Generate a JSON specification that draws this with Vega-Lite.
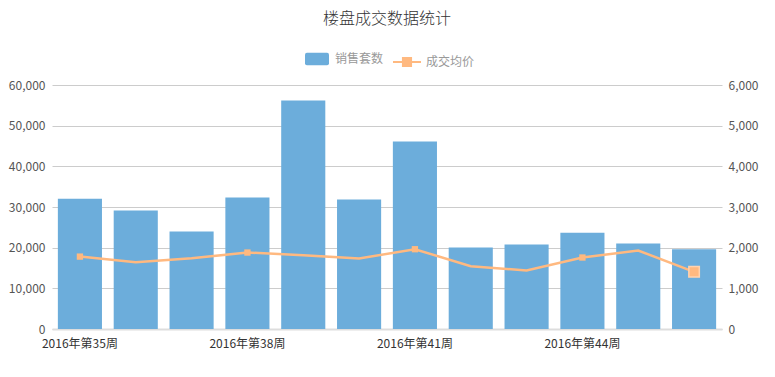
{
  "$schema": "https://vega.github.io/schema/vega-lite/v6.json",
  "width": 670,
  "height": 244,
  "autosize": "none",
  "padding": {"left": 52, "top": 85, "right": 53, "bottom": 48},
  "background": "white",
  "title": {
    "text": "楼盘成交数据统计",
    "fontSize": 16,
    "fontWeight": 300,
    "color": "#333333",
    "font": "Noto Sans CJK SC",
    "anchor": "middle",
    "frame": "group",
    "offset": 20
  },
  "data": {
    "values": [
      {"week": "2016年第35周", "count": 3202, "price": 17800},
      {"week": "2016年第36周", "count": 2914, "price": 16430},
      {"week": "2016年第37周", "count": 2398, "price": 17400},
      {"week": "2016年第38周", "count": 3234, "price": 18800},
      {"week": "2016年第39周", "count": 5619, "price": 18150},
      {"week": "2016年第40周", "count": 3184, "price": 17340},
      {"week": "2016年第41周", "count": 4611, "price": 19620},
      {"week": "2016年第42周", "count": 2004, "price": 15450},
      {"week": "2016年第43周", "count": 2078, "price": 14390},
      {"week": "2016年第44周", "count": 2366, "price": 17580},
      {"week": "2016年第45周", "count": 2102, "price": 19300},
      {"week": "2016年第46周", "count": 1962, "price": 14052}
    ]
  },
  "encoding": {
    "x": {
      "field": "week",
      "type": "ordinal",
      "sort": null,
      "scale": {"paddingInner": 0.21, "paddingOuter": 0.105},
      "axis": {
        "title": null,
        "labelAngle": 0,
        "values": ["2016年第35周", "2016年第38周", "2016年第41周", "2016年第44周"],
        "ticks": false,
        "domainColor": "#dddddd",
        "domainWidth": 2,
        "labelColor": "#333333",
        "labelFontSize": 12,
        "labelFont": "Noto Sans CJK SC",
        "labelPadding": 9
      }
    }
  },
  "layer": [
    {
      "mark": {"type": "bar", "color": "#6caddb"},
      "encoding": {
        "y": {
          "field": "count",
          "type": "quantitative",
          "scale": {"domain": [0, 6000], "nice": false},
          "axis": {
            "orient": "right",
            "title": null,
            "grid": false,
            "domain": false,
            "ticks": false,
            "values": [0, 1000, 2000, 3000, 4000, 5000, 6000],
            "format": ",d",
            "labelColor": "#555555",
            "labelFontSize": 12,
            "labelFont": "Noto Sans CJK SC",
            "labelPadding": 6
          }
        },
        "fill": {
          "datum": "销售套数",
          "scale": {"domain": ["销售套数"], "range": ["#6caddb"]},
          "legend": {
            "orient": "none",
            "legendX": 253,
            "legendY": -38,
            "title": null,
            "padding": 0,
            "symbolType": "M-0.84,-0.52 H0.84 Q1,-0.52 1,-0.36 V0.36 Q1,0.52 0.84,0.52 H-0.84 Q-1,0.52 -1,0.36 V-0.36 Q-1,-0.52 -0.84,-0.52 Z",
            "symbolSize": 576,
            "symbolStrokeWidth": 0,
            "symbolOpacity": 1,
            "labelColor": "#999999",
            "labelFontSize": 12,
            "labelFont": "Noto Sans CJK SC",
            "labelOffset": 6
          }
        }
      }
    },
    {
      "mark": {"type": "line", "strokeWidth": 2.5, "color": "#ffb980"},
      "encoding": {
        "y": {
          "field": "price",
          "type": "quantitative",
          "scale": {"domain": [0, 60000], "nice": false},
          "axis": {
            "orient": "left",
            "title": null,
            "grid": true,
            "gridColor": "#cccccc",
            "domain": false,
            "ticks": false,
            "values": [0, 10000, 20000, 30000, 40000, 50000, 60000],
            "format": ",d",
            "labelColor": "#555555",
            "labelFontSize": 12,
            "labelFont": "Noto Sans CJK SC",
            "labelPadding": 7
          }
        },
        "stroke": {
          "datum": "成交均价",
          "scale": {"domain": ["成交均价"], "range": ["#ffb980"]},
          "legend": {
            "orient": "none",
            "legendX": 340,
            "legendY": -38,
            "title": null,
            "padding": 0,
            "symbolType": "M-1,0 H-0.29 M0.29,0 H1 M-0.29,-0.29 H0.29 V0.29 H-0.29 Z",
            "symbolSize": 784,
            "symbolStrokeWidth": 2,
            "symbolFillColor": "#ffb980",
            "symbolStrokeColor": "#ffcca3",
            "symbolOpacity": 1,
            "labelColor": "#999999",
            "labelFontSize": 12,
            "labelFont": "Noto Sans CJK SC",
            "labelOffset": 4
          }
        }
      }
    },
    {
      "transform": [
        {"filter": {"field": "week", "oneOf": ["2016年第35周", "2016年第38周", "2016年第41周", "2016年第44周"]}}
      ],
      "mark": {"type": "point", "shape": "square", "filled": true, "size": 40, "color": "#ffb980", "opacity": 1},
      "encoding": {
        "y": {"field": "price", "type": "quantitative", "scale": {"domain": [0, 60000], "nice": false}, "axis": null}
      }
    },
    {
      "transform": [
        {"filter": {"field": "week", "equal": "2016年第46周"}}
      ],
      "mark": {"type": "point", "shape": "square", "filled": true, "size": 110, "color": "#ffb980", "stroke": "#ffd3b0", "strokeWidth": 1.5, "opacity": 1},
      "encoding": {
        "y": {"field": "price", "type": "quantitative", "scale": {"domain": [0, 60000], "nice": false}, "axis": null}
      }
    }
  ],
  "resolve": {"scale": {"y": "independent"}},
  "config": {
    "view": {"stroke": null},
    "font": "Noto Sans CJK SC"
  }
}
